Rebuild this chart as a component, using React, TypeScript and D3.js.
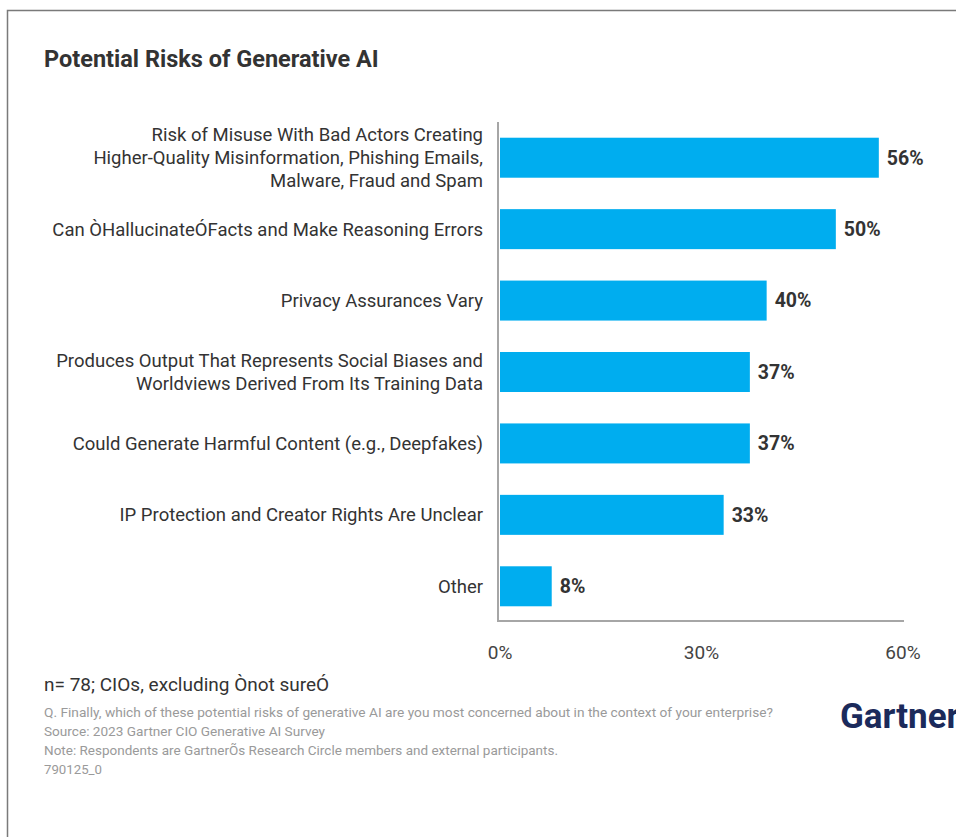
import React from "react";
import * as d3 from "d3";

const title = "Potential Risks of Generative AI";
const categories: string[][] = [
  ["Risk of Misuse With Bad Actors Creating", "Higher-Quality Misinformation, Phishing Emails,", "Malware, Fraud and Spam"],
  ["Can ÒHallucinateÓFacts and Make Reasoning Errors"],
  ["Privacy Assurances Vary"],
  ["Produces Output That Represents Social Biases and", "Worldviews Derived From Its Training Data"],
  ["Could Generate Harmful Content (e.g., Deepfakes)"],
  ["IP Protection and Creator Rights Are Unclear"],
  ["Other"],
];
const values = [56.4, 50.0, 39.7, 37.2, 37.2, 33.3, 7.7];
const xTicks = [0, 30, 60];
const sampleNote = "n= 78; CIOs, excluding Ònot sureÓ";
const footnotes = [
  "Q. Finally, which of these potential risks of generative AI are you most concerned about in the context of your enterprise?",
  "Source: 2023 Gartner CIO Generative AI Survey",
  "Note: Respondents are GartnerÕs Research Circle members and external participants.",
  "790125_0",
];
const footWidths = [729, 281, 514, 58];

const W = 956, H = 837;
const FONT = "Roboto, 'Noto Sans', sans-serif";

export default function App() {
  const x = d3.scaleLinear().domain([0, 60]).range([500, 903]);
  const y = d3.scaleBand<number>().domain(d3.range(values.length)).range([122, 622]).paddingInner(0.44).paddingOuter(0.22);
  const bh = y.bandwidth();
  const lineH = 23;
  return (
    <svg width={W} height={H} style={{ position: "absolute", left: 0, top: 0, background: "#fff" }} fontFamily={FONT}>
      <rect x={7.5} y={10.5} width={W} height={H} fill="none" stroke="#7a7a7a" strokeWidth={1.5} />
      <text x={44} y={67} fontSize={23.5} fontWeight={700} fill="#333">{title}</text>
      {values.map((v, i) => {
        const yc = (y(i) as number) + bh / 2;
        const lines = categories[i];
        return (
          <g key={i}>
            <rect x={x(0)} y={y(i)} width={x(v) - x(0)} height={bh} fill="#00adef" />
            <text x={x(v) + 8} y={yc} dy="0.35em" fontSize={19.5} fontWeight={700} fill="#333">{d3.format(".0f")(v)}%</text>
            {lines.map((l, j) => (
              <text key={j} x={483} y={yc + (j - (lines.length - 1) / 2) * lineH} dy="0.35em" fontSize={18.5} fill="#333" textAnchor="end">{l}</text>
            ))}
          </g>
        );
      })}
      <line x1={498} x2={498} y1={122} y2={622} stroke="#a6a6a6" strokeWidth={2} />
      <line x1={497} x2={904} y1={621} y2={621} stroke="#a6a6a6" strokeWidth={2} />
      {xTicks.map((t) => (
        <text key={t} x={x(t)} y={652} dy="0.35em" fontSize={19} fill="#444" textAnchor="middle">{t}%</text>
      ))}
      <text x={44} y={684} dy="0.35em" fontSize={19} fill="#333">{sampleNote}</text>
      {footnotes.map((f, i) => (
        <text key={i} x={44} y={712 + i * 19} dy="0.35em" fontSize={13.5} fill="#9a9a9a" textLength={footWidths[i]} lengthAdjust="spacingAndGlyphs">{f}</text>
      ))}
      <text x={840} y={728} fontSize={35} fontWeight={700} fill="#1b2a5b">Gartner</text>
    </svg>
  );
}
